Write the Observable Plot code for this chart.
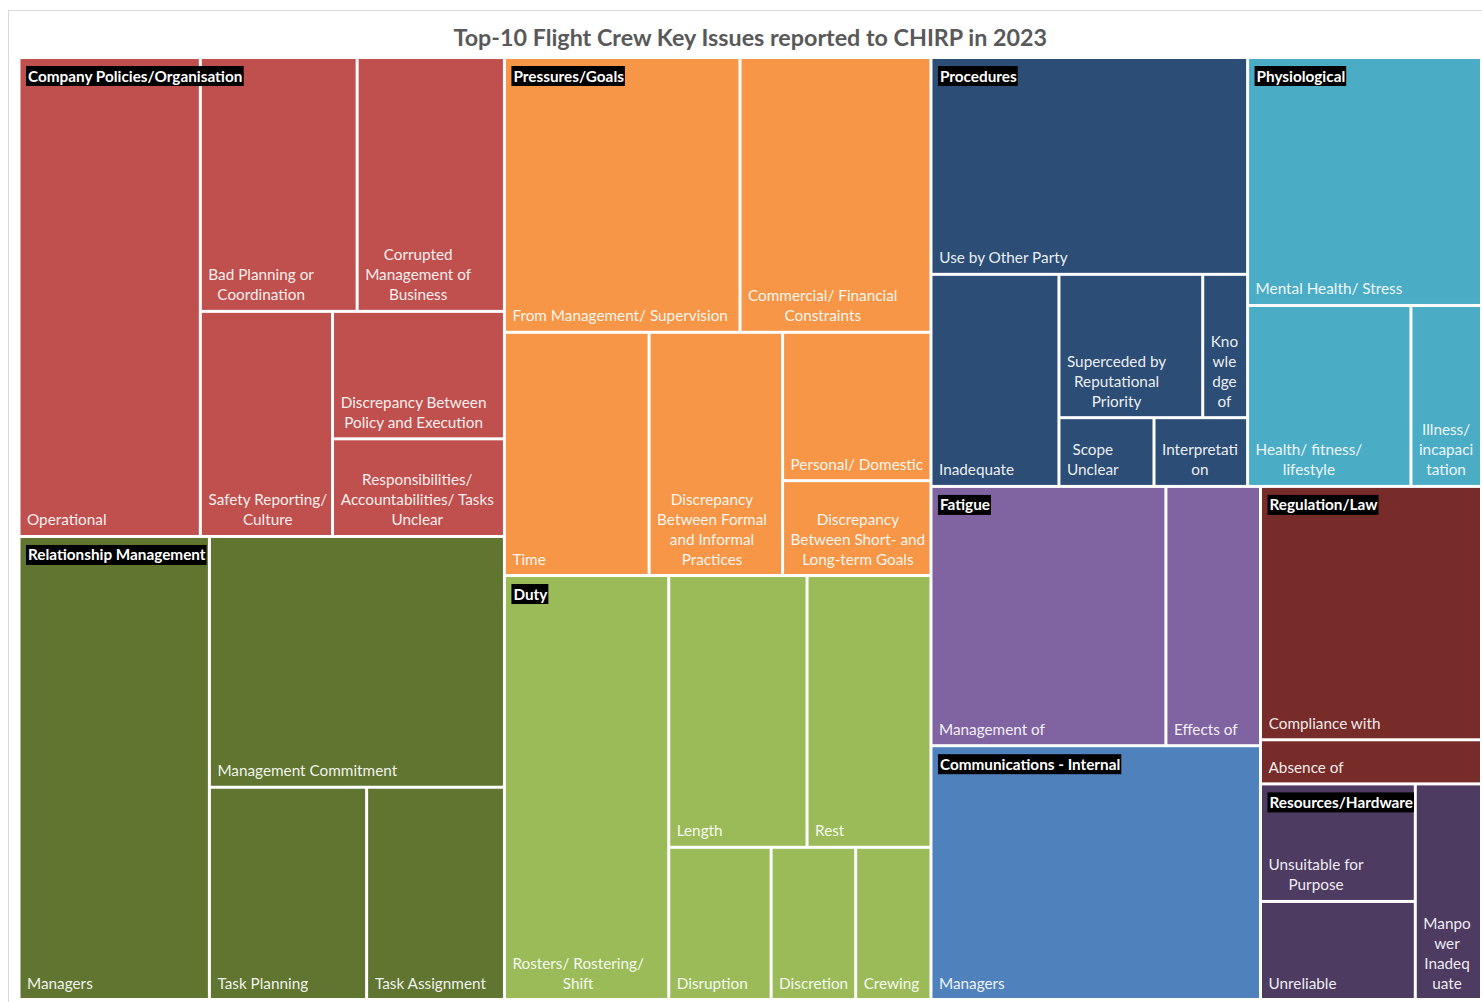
<!DOCTYPE html>
<html>
<head>
<meta charset="utf-8">
<script src="https://cdn.jsdelivr.net/npm/d3@7"></script>
<script src="https://cdn.jsdelivr.net/npm/@observablehq/plot@0.6"></script>
<style>
  html, body { margin: 0; padding: 0; background: #fff; }
  #wrap { position: relative; width: 1482px; height: 1002px; overflow: hidden; }
  #frame { position: absolute; left: 8px; top: 10px; width: 1500px; height: 1010px; border: 1px solid #d9d9d9; box-sizing: border-box; }
  #chart { position: absolute; left: 0; top: 0; }
  #title { position: absolute; left: 19px; width: 1462.5px; top: 23px; line-height: 28px; text-align: center;
           font-family: Lato, sans-serif; font-weight: bold; font-size: 23.3px; color: #595959; }
</style>
</head>
<body>
<div id="wrap">
  <div id="frame"></div>
  <div id="chart"></div>
  <div id="title">Top-10 Flight Crew Key Issues reported to CHIRP in 2023</div>
</div>
<script>
// ---------------- data ----------------
const groupNames = [
  "Company Policies/Organisation", "Relationship Management", "Pressures/Goals", "Duty",
  "Procedures", "Physiological", "Fatigue", "Communications - Internal",
  "Regulation/Law", "Resources/Hardware"
];

const issueGroup = [
  "Company Policies/Organisation", "Company Policies/Organisation", "Company Policies/Organisation",
  "Company Policies/Organisation", "Company Policies/Organisation", "Company Policies/Organisation",
  "Relationship Management", "Relationship Management", "Relationship Management", "Relationship Management",
  "Pressures/Goals", "Pressures/Goals", "Pressures/Goals", "Pressures/Goals", "Pressures/Goals", "Pressures/Goals",
  "Duty", "Duty", "Duty", "Duty", "Duty", "Duty",
  "Procedures", "Procedures", "Procedures", "Procedures", "Procedures", "Procedures",
  "Physiological", "Physiological", "Physiological",
  "Fatigue", "Fatigue",
  "Communications - Internal",
  "Regulation/Law", "Regulation/Law",
  "Resources/Hardware", "Resources/Hardware", "Resources/Hardware"
];

const issueLabel = [
  "Operational", "Bad Planning or\nCoordination", "Corrupted\nManagement of\nBusiness",
  "Safety Reporting/\nCulture", "Discrepancy Between\nPolicy and Execution",
  "Responsibilities/\nAccountabilities/ Tasks\nUnclear",
  "Managers", "Management Commitment", "Task Planning", "Task Assignment",
  "From Management/ Supervision", "Commercial/ Financial\nConstraints", "Time",
  "Discrepancy\nBetween Formal\nand Informal\nPractices", "Personal/ Domestic",
  "Discrepancy\nBetween Short- and\nLong-term Goals",
  "Rosters/ Rostering/\nShift", "Length", "Rest", "Disruption", "Discretion", "Crewing",
  "Use by Other Party", "Inadequate", "Superceded by\nReputational\nPriority",
  "Kno\nwle\ndge\nof", "Scope\nUnclear", "Interpretati\non",
  "Mental Health/ Stress", "Health/ fitness/\nlifestyle", "Illness/\nincapaci\ntation",
  "Management of", "Effects of",
  "Managers",
  "Compliance with", "Absence of",
  "Unsuitable for\nPurpose", "Unreliable", "Manpo\nwer\nInadeq\nuate"
];

const issueValue = [
  86.4, 39.6, 37.2, 29.6, 21.8, 16.7,
  87.7, 73.6, 33.2, 29.1,
  64.4, 52.2, 35.0, 32.3, 21.9, 14.0,
  69.3, 37.4, 33.5, 15.5, 12.8, 11.4,
  68.3, 27.0, 20.5, 6.4, 6.5, 6.4,
  57.7, 29.4, 12.7,
  60.6, 24.4,
  83.2,
  55.7, 9.7,
  18.1, 15.1, 14.2
];

// ---------------- styles / layout settings ----------------
const groupColors = ["#C0504D", "#5F7530", "#F79646", "#9BBB59", "#2C4D75",
                     "#4BACC6", "#8064A2", "#4F81BD", "#772C2A", "#4D3B62"];

// number of tiles in each successive strip (Excel-like squarified strips)
const topStrips = [2, 2, 2, 2, 1, 1];
const groupStrips = {
  "Company Policies/Organisation": [1, 2, 1, 1, 1],
  "Relationship Management": [1, 1, 1, 1],
  "Pressures/Goals": [2, 1, 1, 1, 1],
  "Duty": [1, 2, 1, 1, 1],
  "Procedures": [1, 1, 2, 1, 1],
  "Physiological": [1, 1, 1],
  "Fatigue": [1, 1],
  "Communications - Internal": [1],
  "Regulation/Law": [1, 1],
  "Resources/Hardware": [2, 1]
};

const W = 1462.5, H = 942;          // treemap size (pixel units)
const X0 = 19, Y0 = 57.5;            // where the treemap sits in the svg
const FONT = "Lato";
const LEAF_SIZE = 15.3, GROUP_SIZE = 15.3, LINE_H = 20;

// ---------------- layout ----------------
function stripTile(parent, x0, y0, x1, y1) {
  const spec = parent.depth === 0 ? topStrips : (groupStrips[parent.data.name] || [parent.children.length]);
  const nodes = parent.children;
  let value = parent.value, i = 0;
  for (const k of spec) {
    const kids = nodes.slice(i, i + k);
    if (!kids.length) break;
    const sum = d3.sum(kids, d => d.value);
    const row = {children: kids, value: sum};
    if (x1 - x0 < y1 - y0) {
      const yy = value ? y0 + (y1 - y0) * sum / value : y1;
      d3.treemapDice(row, x0, y0, x1, yy); y0 = yy;
    } else {
      const xx = value ? x0 + (x1 - x0) * sum / value : x1;
      d3.treemapSlice(row, x0, y0, xx, y1); x0 = xx;
    }
    value -= sum; i += k;
  }
}

const tree = {
  name: "root",
  children: groupNames.map(g => ({
    name: g,
    children: issueLabel.map((l, i) => ({name: l, group: issueGroup[i], value: issueValue[i]}))
                        .filter(d => d.group === g)
  }))
};
const root = d3.hierarchy(tree).sum(d => d.value || 0);
d3.treemap().size([W, H]).tile(stripTile)(root);

const ctx = document.createElement("canvas").getContext("2d");
function tw(s, font) { ctx.font = font; return ctx.measureText(s).width; }

const leaves = root.leaves().map(d => {
  const lines = d.data.name.split("\n");
  const mw = d3.max(lines, s => tw(s, `${LEAF_SIZE}px ${FONT}`));
  return {x0: d.x0, x1: d.x1, y0: d.y0, y1: d.y1, group: d.data.group, label: d.data.name,
          tx: d.x0 + 7.5 + mw / 2, ty: d.y1 - 11.5};
});

const groupLabels = root.children.map(d => {
  const w = tw(d.data.name, `bold ${GROUP_SIZE}px ${FONT}`);
  const bx1 = d.x0 + 7, by1 = d.y0 + 8.5;
  return {name: d.data.name, bx1, bx2: bx1 + w + 3, by1, by2: by1 + 20, tx: bx1 + 1.5, ty: by1 + 15};
});

const chart = Plot.plot({
  width: 1482, height: 1002,
  margin: 0,
  style: {background: "transparent"},
  x: {domain: [0, W], range: [X0, X0 + W], axis: null},
  y: {domain: [0, H], range: [Y0, Y0 + H], axis: null},
  color: {domain: groupNames, range: groupColors},
  marks: [
    Plot.rect(leaves, {x1: "x0", x2: "x1", y1: "y0", y2: "y1", fill: "group", inset: 1.5}),
    Plot.text(leaves, {x: "tx", y: "ty", text: "label", fill: "white", fillOpacity: 0.93,
      fontFamily: FONT, fontSize: LEAF_SIZE, textAnchor: "middle", lineAnchor: "bottom",
      lineHeight: LINE_H / LEAF_SIZE}),
    Plot.rect(groupLabels, {x1: "bx1", x2: "bx2", y1: "by1", y2: "by2", fill: "black"}),
    Plot.text(groupLabels, {x: "tx", y: "ty", text: "name", fill: "white", fontWeight: "bold",
      fontFamily: FONT, fontSize: GROUP_SIZE, textAnchor: "start", lineAnchor: "bottom"})
  ]
});
document.getElementById("chart").appendChild(chart);
</script>
</body>
</html>
